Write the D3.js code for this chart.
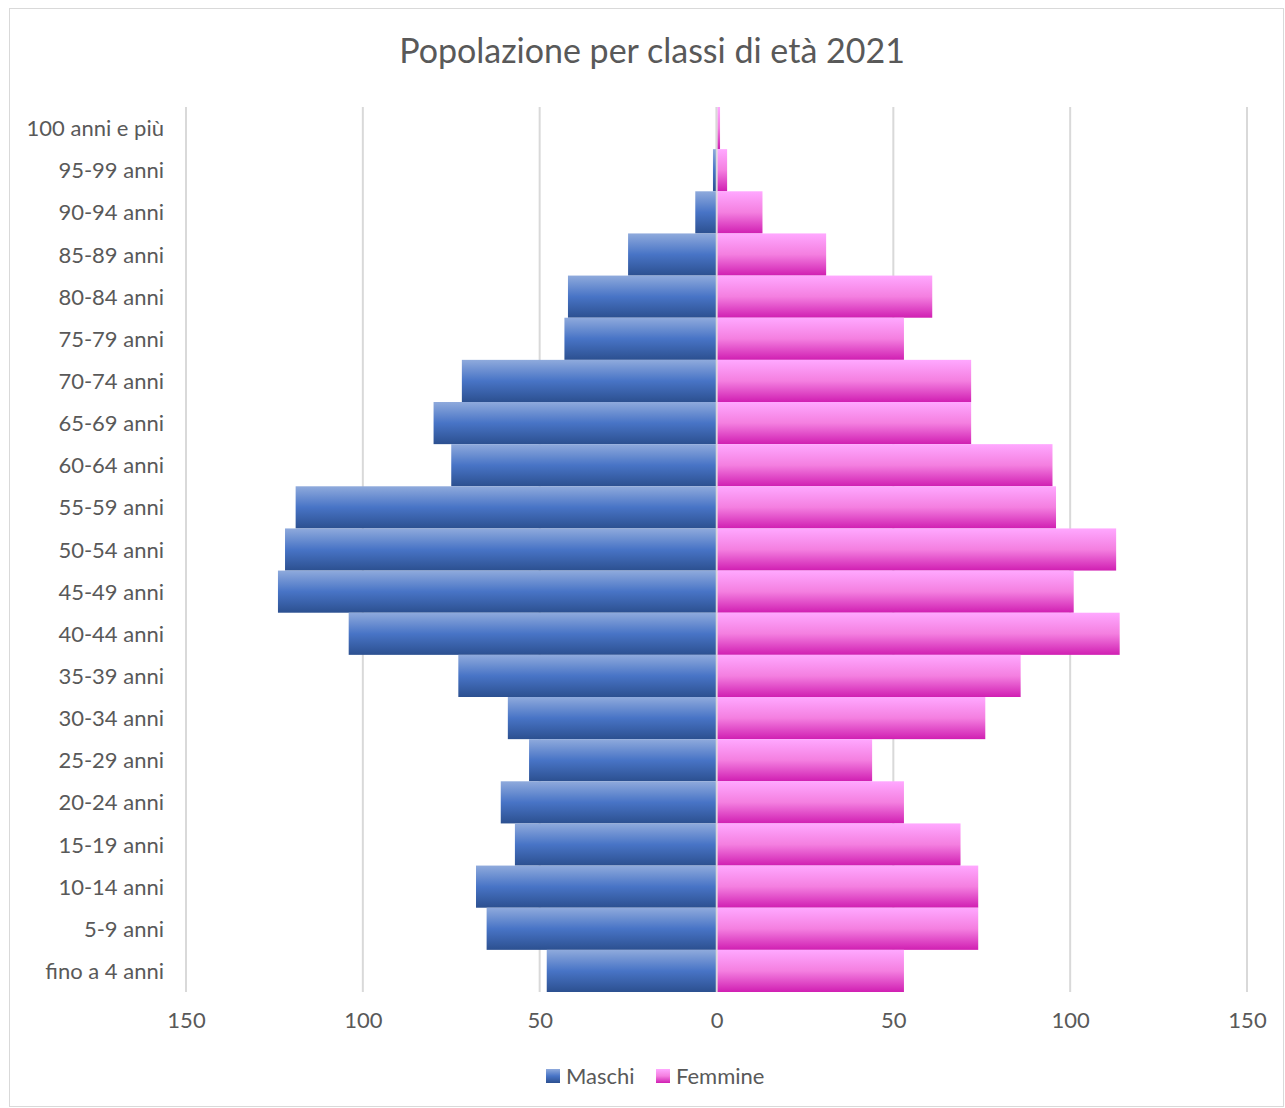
<!DOCTYPE html>
<html lang="it">
<head>
<meta charset="UTF-8">
<title>Popolazione per classi di età 2021</title>
<script src="https://d3js.org/d3.v7.min.js"></script>
<style>
  body { margin: 0; background: #fff; }
  text { font-family: Lato, "Open Sans", sans-serif; fill: #595959; }
</style>
</head>
<body>
<div id="chart"></div>
<script>
  // age classes, top to bottom as drawn
  const categories = ["100 anni e più", "95-99 anni", "90-94 anni", "85-89 anni", "80-84 anni",
    "75-79 anni", "70-74 anni", "65-69 anni", "60-64 anni", "55-59 anni", "50-54 anni",
    "45-49 anni", "40-44 anni", "35-39 anni", "30-34 anni", "25-29 anni", "20-24 anni",
    "15-19 anni", "10-14 anni", "5-9 anni", "fino a 4 anni"];
  const maschi = [0, 1, 6, 25, 42, 43, 72, 80, 75, 119, 122, 124, 104, 73, 59, 53, 61, 57, 68, 65, 48];
  const femmine = [1, 3, 13, 31, 61, 53, 72, 72, 95, 96, 113, 101, 114, 86, 76, 44, 53, 69, 74, 74, 53];
  const ticks = [-150, -100, -50, 0, 50, 100, 150];

  const W = 1285, H = 1108;
  const svg = d3.select("#chart").append("svg")
    .attr("width", W).attr("height", H);

  // chart frame
  svg.append("rect")
    .attr("x", 9.5).attr("y", 8.5)
    .attr("width", W - 11).attr("height", H - 10)
    .attr("fill", "#fff").attr("stroke", "#d9d9d9");

  const defs = svg.append("defs");
  const grad = (id, stops) => {
    const g = defs.append("linearGradient").attr("id", id)
      .attr("x1", 0).attr("y1", 0).attr("x2", 0).attr("y2", 1);
    stops.forEach(s => g.append("stop").attr("offset", s[0]).attr("stop-color", s[1]));
  };
  grad("gM", [[0, "#8faadc"], [0.5, "#4874c6"], [1, "#2c5090"]]);
  grad("gF", [[0, "#ffa8ff"], [0.5, "#f47fe0"], [1, "#d01fb2"]]);

  const x = d3.scaleLinear().domain([-150, 150]).range([186, 1247]);
  const y = d3.scaleBand().domain(categories).range([107, 992]).padding(0);

  // gridlines
  svg.append("g").selectAll("line")
    .data(ticks)
    .join("line")
      .attr("x1", d => x(d)).attr("x2", d => x(d))
      .attr("y1", 107).attr("y2", 992)
      .attr("stroke", "#d9d9d9").attr("stroke-width", 2);

  // bars
  svg.append("g").selectAll("rect")
    .data(categories)
    .join("rect")
      .attr("x", (d, i) => x(-maschi[i]))
      .attr("y", d => y(d))
      .attr("width", (d, i) => x(0) - x(-maschi[i]))
      .attr("height", y.bandwidth())
      .attr("fill", "url(#gM)");

  svg.append("g").selectAll("rect")
    .data(categories)
    .join("rect")
      .attr("x", x(0) + 1)
      .attr("y", d => y(d))
      .attr("width", (d, i) => Math.max(0, x(femmine[i]) - x(0) - 1))
      .attr("height", y.bandwidth())
      .attr("fill", "url(#gF)");

  // zero line over bars
  svg.append("line")
    .attr("x1", x(0)).attr("x2", x(0))
    .attr("y1", 107).attr("y2", 992)
    .attr("stroke", "#d9d9d9").attr("stroke-width", 1.5);

  // category labels
  svg.append("g")
    .attr("transform", "translate(164,1)")
    .call(d3.axisLeft(y).tickSize(0).tickPadding(0))
    .call(g => g.select(".domain").remove())
    .selectAll("text")
      .style("font-size", "22px")
      .attr("fill", "#595959");

  // x axis labels
  svg.append("g")
    .attr("transform", "translate(0,1012)")
    .call(d3.axisBottom(x).tickValues(ticks).tickSize(0).tickPadding(0)
      .tickFormat(d => Math.abs(d)))
    .call(g => g.select(".domain").remove())
    .selectAll("text")
      .style("font-size", "22px")
      .attr("fill", "#595959");

  // title
  svg.append("text")
    .attr("x", 652).attr("y", 63)
    .attr("text-anchor", "middle")
    .style("font-size", "34px")
    .text("Popolazione per classi di età 2021");

  // legend
  const legend = [["Maschi", "url(#gM)", 546], ["Femmine", "url(#gF)", 656]];
  const lg = svg.append("g").selectAll("g")
    .data(legend)
    .join("g")
      .attr("transform", d => `translate(${d[2]},1069)`);
  lg.append("rect").attr("width", 14).attr("height", 14).attr("fill", d => d[1]);
  lg.append("text").attr("x", 20).attr("y", 15)
    .style("font-size", "22px").text(d => d[0]);
</script>
</body>
</html>
